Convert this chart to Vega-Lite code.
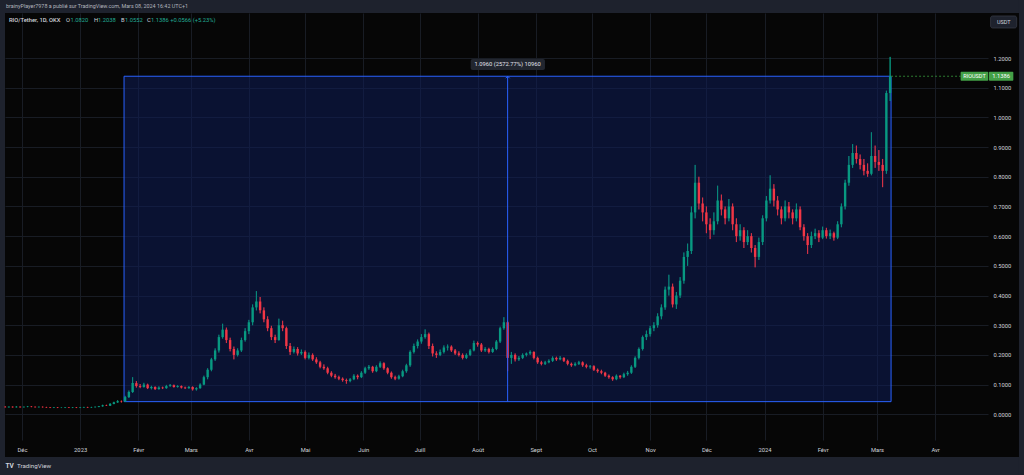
{
"$schema":"https://vega.github.io/schema/vega-lite/v6.json",
"width":983,"height":427,
"autosize":{"type":"none"},
"padding":{"left":5,"top":13,"right":36,"bottom":35},
"background":"#060606",
"config":{"view":{"stroke":null},"font":"Roboto",
 "axis":{"title":null,"grid":true,"gridColor":"#181c24","domain":false,"ticks":false,"labelColor":"#d1d4dc","labelFontSize":5.8,"labelFont":"Roboto","labelFlush":false,"labelOverlap":false}},
"datasets":{"k":[
{"t":"2022-11-22","o":0.025,"h":0.027,"l":0.023,"c":0.024},
{"t":"2022-11-24","o":0.024,"h":0.026,"l":0.023,"c":0.025},
{"t":"2022-11-26","o":0.025,"h":0.026,"l":0.023,"c":0.024},
{"t":"2022-11-28","o":0.024,"h":0.027,"l":0.023,"c":0.025},
{"t":"2022-11-30","o":0.025,"h":0.026,"l":0.023,"c":0.024},
{"t":"2022-12-02","o":0.024,"h":0.026,"l":0.023,"c":0.025},
{"t":"2022-12-04","o":0.025,"h":0.028,"l":0.024,"c":0.026},
{"t":"2022-12-06","o":0.026,"h":0.027,"l":0.024,"c":0.025},
{"t":"2022-12-08","o":0.025,"h":0.026,"l":0.023,"c":0.024},
{"t":"2022-12-10","o":0.024,"h":0.026,"l":0.023,"c":0.025},
{"t":"2022-12-12","o":0.025,"h":0.026,"l":0.023,"c":0.024},
{"t":"2022-12-14","o":0.024,"h":0.025,"l":0.022,"c":0.023},
{"t":"2022-12-16","o":0.023,"h":0.024,"l":0.021,"c":0.022},
{"t":"2022-12-18","o":0.022,"h":0.024,"l":0.021,"c":0.023},
{"t":"2022-12-20","o":0.023,"h":0.024,"l":0.021,"c":0.022},
{"t":"2022-12-22","o":0.022,"h":0.023,"l":0.021,"c":0.0225},
{"t":"2022-12-24","o":0.022,"h":0.024,"l":0.021,"c":0.023},
{"t":"2022-12-26","o":0.023,"h":0.024,"l":0.021,"c":0.022},
{"t":"2022-12-28","o":0.022,"h":0.024,"l":0.021,"c":0.023},
{"t":"2022-12-30","o":0.023,"h":0.024,"l":0.021,"c":0.022},
{"t":"2023-01-01","o":0.022,"h":0.024,"l":0.021,"c":0.023},
{"t":"2023-01-03","o":0.023,"h":0.025,"l":0.022,"c":0.024},
{"t":"2023-01-05","o":0.024,"h":0.025,"l":0.022,"c":0.023},
{"t":"2023-01-07","o":0.023,"h":0.025,"l":0.022,"c":0.024},
{"t":"2023-01-09","o":0.024,"h":0.026,"l":0.023,"c":0.025},
{"t":"2023-01-11","o":0.025,"h":0.028,"l":0.024,"c":0.027},
{"t":"2023-01-13","o":0.027,"h":0.032,"l":0.026,"c":0.030},
{"t":"2023-01-15","o":0.030,"h":0.032,"l":0.028,"c":0.029},
{"t":"2023-01-17","o":0.029,"h":0.037,"l":0.028,"c":0.035},
{"t":"2023-01-19","o":0.035,"h":0.042,"l":0.034,"c":0.040},
{"t":"2023-01-21","o":0.040,"h":0.047,"l":0.039,"c":0.044},
{"t":"2023-01-23","o":0.044,"h":0.046,"l":0.040,"c":0.043},
{"t":"2023-01-25","o":0.043,"h":0.062,"l":0.042,"c":0.058},
{"t":"2023-01-27","o":0.058,"h":0.080,"l":0.055,"c":0.075},
{"t":"2023-01-29","o":0.075,"h":0.125,"l":0.072,"c":0.105},
{"t":"2023-01-31","o":0.105,"h":0.112,"l":0.090,"c":0.095},
{"t":"2023-02-02","o":0.095,"h":0.102,"l":0.088,"c":0.092},
{"t":"2023-02-04","o":0.092,"h":0.106,"l":0.090,"c":0.100},
{"t":"2023-02-06","o":0.100,"h":0.103,"l":0.085,"c":0.088},
{"t":"2023-02-08","o":0.088,"h":0.096,"l":0.084,"c":0.092},
{"t":"2023-02-10","o":0.092,"h":0.094,"l":0.082,"c":0.085},
{"t":"2023-02-12","o":0.085,"h":0.094,"l":0.083,"c":0.090},
{"t":"2023-02-14","o":0.090,"h":0.093,"l":0.085,"c":0.088},
{"t":"2023-02-16","o":0.088,"h":0.099,"l":0.086,"c":0.095},
{"t":"2023-02-18","o":0.095,"h":0.102,"l":0.093,"c":0.098},
{"t":"2023-02-20","o":0.098,"h":0.100,"l":0.090,"c":0.092},
{"t":"2023-02-22","o":0.092,"h":0.098,"l":0.090,"c":0.095},
{"t":"2023-02-24","o":0.095,"h":0.097,"l":0.087,"c":0.090},
{"t":"2023-02-26","o":0.090,"h":0.093,"l":0.085,"c":0.088},
{"t":"2023-02-28","o":0.088,"h":0.095,"l":0.086,"c":0.092},
{"t":"2023-03-02","o":0.092,"h":0.094,"l":0.080,"c":0.084},
{"t":"2023-03-04","o":0.084,"h":0.091,"l":0.080,"c":0.088},
{"t":"2023-03-06","o":0.088,"h":0.104,"l":0.086,"c":0.100},
{"t":"2023-03-08","o":0.100,"h":0.130,"l":0.098,"c":0.125},
{"t":"2023-03-10","o":0.125,"h":0.155,"l":0.118,"c":0.150},
{"t":"2023-03-12","o":0.150,"h":0.190,"l":0.145,"c":0.185},
{"t":"2023-03-14","o":0.185,"h":0.222,"l":0.180,"c":0.215},
{"t":"2023-03-16","o":0.215,"h":0.268,"l":0.208,"c":0.260},
{"t":"2023-03-18","o":0.260,"h":0.305,"l":0.255,"c":0.285},
{"t":"2023-03-20","o":0.285,"h":0.292,"l":0.240,"c":0.250},
{"t":"2023-03-22","o":0.250,"h":0.258,"l":0.212,"c":0.220},
{"t":"2023-03-24","o":0.220,"h":0.228,"l":0.185,"c":0.200},
{"t":"2023-03-26","o":0.200,"h":0.222,"l":0.195,"c":0.215},
{"t":"2023-03-28","o":0.215,"h":0.258,"l":0.210,"c":0.250},
{"t":"2023-03-30","o":0.250,"h":0.290,"l":0.245,"c":0.280},
{"t":"2023-04-01","o":0.280,"h":0.318,"l":0.270,"c":0.310},
{"t":"2023-04-03","o":0.310,"h":0.370,"l":0.300,"c":0.360},
{"t":"2023-04-05","o":0.360,"h":0.415,"l":0.350,"c":0.380},
{"t":"2023-04-07","o":0.380,"h":0.395,"l":0.340,"c":0.350},
{"t":"2023-04-09","o":0.350,"h":0.360,"l":0.310,"c":0.320},
{"t":"2023-04-11","o":0.320,"h":0.330,"l":0.280,"c":0.290},
{"t":"2023-04-13","o":0.290,"h":0.298,"l":0.250,"c":0.260},
{"t":"2023-04-15","o":0.260,"h":0.268,"l":0.240,"c":0.250},
{"t":"2023-04-17","o":0.250,"h":0.322,"l":0.248,"c":0.300},
{"t":"2023-04-19","o":0.300,"h":0.315,"l":0.280,"c":0.290},
{"t":"2023-04-21","o":0.290,"h":0.295,"l":0.220,"c":0.230},
{"t":"2023-04-23","o":0.230,"h":0.240,"l":0.200,"c":0.210},
{"t":"2023-04-25","o":0.210,"h":0.228,"l":0.205,"c":0.220},
{"t":"2023-04-27","o":0.220,"h":0.226,"l":0.198,"c":0.205},
{"t":"2023-04-29","o":0.205,"h":0.218,"l":0.200,"c":0.210},
{"t":"2023-05-01","o":0.210,"h":0.215,"l":0.185,"c":0.190},
{"t":"2023-05-03","o":0.190,"h":0.208,"l":0.185,"c":0.200},
{"t":"2023-05-05","o":0.200,"h":0.205,"l":0.180,"c":0.185},
{"t":"2023-05-07","o":0.185,"h":0.192,"l":0.170,"c":0.175},
{"t":"2023-05-09","o":0.175,"h":0.180,"l":0.155,"c":0.160},
{"t":"2023-05-11","o":0.160,"h":0.168,"l":0.150,"c":0.155},
{"t":"2023-05-13","o":0.155,"h":0.160,"l":0.135,"c":0.140},
{"t":"2023-05-15","o":0.140,"h":0.145,"l":0.125,"c":0.130},
{"t":"2023-05-17","o":0.130,"h":0.136,"l":0.120,"c":0.125},
{"t":"2023-05-19","o":0.125,"h":0.130,"l":0.115,"c":0.120},
{"t":"2023-05-21","o":0.120,"h":0.124,"l":0.110,"c":0.115},
{"t":"2023-05-23","o":0.115,"h":0.120,"l":0.103,"c":0.112},
{"t":"2023-05-25","o":0.112,"h":0.122,"l":0.108,"c":0.118},
{"t":"2023-05-27","o":0.118,"h":0.135,"l":0.115,"c":0.130},
{"t":"2023-05-29","o":0.130,"h":0.134,"l":0.118,"c":0.125},
{"t":"2023-05-31","o":0.125,"h":0.145,"l":0.122,"c":0.140},
{"t":"2023-06-02","o":0.140,"h":0.160,"l":0.136,"c":0.155},
{"t":"2023-06-04","o":0.155,"h":0.166,"l":0.150,"c":0.160},
{"t":"2023-06-06","o":0.160,"h":0.163,"l":0.140,"c":0.145},
{"t":"2023-06-08","o":0.145,"h":0.165,"l":0.142,"c":0.160},
{"t":"2023-06-10","o":0.160,"h":0.178,"l":0.156,"c":0.172},
{"t":"2023-06-12","o":0.172,"h":0.175,"l":0.150,"c":0.155},
{"t":"2023-06-14","o":0.155,"h":0.158,"l":0.135,"c":0.140},
{"t":"2023-06-16","o":0.140,"h":0.144,"l":0.120,"c":0.125},
{"t":"2023-06-18","o":0.125,"h":0.130,"l":0.115,"c":0.120},
{"t":"2023-06-20","o":0.120,"h":0.133,"l":0.117,"c":0.128},
{"t":"2023-06-22","o":0.128,"h":0.150,"l":0.125,"c":0.145},
{"t":"2023-06-24","o":0.145,"h":0.170,"l":0.140,"c":0.165},
{"t":"2023-06-26","o":0.165,"h":0.215,"l":0.160,"c":0.210},
{"t":"2023-06-28","o":0.210,"h":0.238,"l":0.205,"c":0.230},
{"t":"2023-06-30","o":0.230,"h":0.252,"l":0.222,"c":0.245},
{"t":"2023-07-02","o":0.245,"h":0.270,"l":0.238,"c":0.260},
{"t":"2023-07-04","o":0.260,"h":0.286,"l":0.255,"c":0.270},
{"t":"2023-07-06","o":0.270,"h":0.275,"l":0.220,"c":0.230},
{"t":"2023-07-08","o":0.230,"h":0.238,"l":0.195,"c":0.205},
{"t":"2023-07-10","o":0.205,"h":0.212,"l":0.190,"c":0.200},
{"t":"2023-07-12","o":0.200,"h":0.218,"l":0.196,"c":0.210},
{"t":"2023-07-14","o":0.210,"h":0.232,"l":0.205,"c":0.225},
{"t":"2023-07-16","o":0.225,"h":0.235,"l":0.215,"c":0.228},
{"t":"2023-07-18","o":0.228,"h":0.232,"l":0.210,"c":0.215},
{"t":"2023-07-20","o":0.215,"h":0.220,"l":0.200,"c":0.205},
{"t":"2023-07-22","o":0.205,"h":0.212,"l":0.195,"c":0.200},
{"t":"2023-07-24","o":0.200,"h":0.205,"l":0.185,"c":0.190},
{"t":"2023-07-26","o":0.190,"h":0.205,"l":0.186,"c":0.200},
{"t":"2023-07-28","o":0.200,"h":0.220,"l":0.196,"c":0.215},
{"t":"2023-07-30","o":0.215,"h":0.248,"l":0.212,"c":0.240},
{"t":"2023-08-01","o":0.240,"h":0.245,"l":0.228,"c":0.235},
{"t":"2023-08-03","o":0.235,"h":0.240,"l":0.210,"c":0.215},
{"t":"2023-08-05","o":0.215,"h":0.226,"l":0.210,"c":0.220},
{"t":"2023-08-07","o":0.220,"h":0.224,"l":0.205,"c":0.210},
{"t":"2023-08-09","o":0.210,"h":0.225,"l":0.207,"c":0.220},
{"t":"2023-08-11","o":0.220,"h":0.250,"l":0.216,"c":0.245},
{"t":"2023-08-13","o":0.245,"h":0.295,"l":0.240,"c":0.290},
{"t":"2023-08-15","o":0.290,"h":0.327,"l":0.285,"c":0.310},
{"t":"2023-08-17","o":0.310,"h":0.315,"l":0.145,"c":0.190},
{"t":"2023-08-19","o":0.190,"h":0.210,"l":0.170,"c":0.200},
{"t":"2023-08-21","o":0.200,"h":0.205,"l":0.178,"c":0.185},
{"t":"2023-08-23","o":0.185,"h":0.196,"l":0.180,"c":0.190},
{"t":"2023-08-25","o":0.190,"h":0.205,"l":0.186,"c":0.200},
{"t":"2023-08-27","o":0.200,"h":0.208,"l":0.195,"c":0.205},
{"t":"2023-08-29","o":0.205,"h":0.215,"l":0.200,"c":0.210},
{"t":"2023-08-31","o":0.210,"h":0.212,"l":0.185,"c":0.190},
{"t":"2023-09-02","o":0.190,"h":0.194,"l":0.170,"c":0.175},
{"t":"2023-09-04","o":0.175,"h":0.180,"l":0.165,"c":0.170},
{"t":"2023-09-06","o":0.170,"h":0.180,"l":0.166,"c":0.175},
{"t":"2023-09-08","o":0.175,"h":0.185,"l":0.172,"c":0.180},
{"t":"2023-09-10","o":0.180,"h":0.195,"l":0.176,"c":0.190},
{"t":"2023-09-12","o":0.190,"h":0.194,"l":0.180,"c":0.185},
{"t":"2023-09-14","o":0.185,"h":0.196,"l":0.182,"c":0.190},
{"t":"2023-09-16","o":0.190,"h":0.192,"l":0.176,"c":0.180},
{"t":"2023-09-18","o":0.180,"h":0.184,"l":0.165,"c":0.170},
{"t":"2023-09-20","o":0.170,"h":0.174,"l":0.160,"c":0.165},
{"t":"2023-09-22","o":0.165,"h":0.175,"l":0.162,"c":0.170},
{"t":"2023-09-24","o":0.170,"h":0.180,"l":0.166,"c":0.175},
{"t":"2023-09-26","o":0.175,"h":0.178,"l":0.160,"c":0.165},
{"t":"2023-09-28","o":0.165,"h":0.170,"l":0.155,"c":0.160},
{"t":"2023-09-30","o":0.160,"h":0.166,"l":0.154,"c":0.162},
{"t":"2023-10-02","o":0.162,"h":0.165,"l":0.146,"c":0.150},
{"t":"2023-10-04","o":0.150,"h":0.154,"l":0.140,"c":0.145},
{"t":"2023-10-06","o":0.145,"h":0.150,"l":0.135,"c":0.140},
{"t":"2023-10-08","o":0.140,"h":0.143,"l":0.126,"c":0.130},
{"t":"2023-10-10","o":0.130,"h":0.134,"l":0.120,"c":0.125},
{"t":"2023-10-12","o":0.125,"h":0.128,"l":0.113,"c":0.118},
{"t":"2023-10-14","o":0.118,"h":0.134,"l":0.115,"c":0.130},
{"t":"2023-10-16","o":0.130,"h":0.132,"l":0.120,"c":0.125},
{"t":"2023-10-18","o":0.125,"h":0.140,"l":0.122,"c":0.135},
{"t":"2023-10-20","o":0.135,"h":0.146,"l":0.130,"c":0.140},
{"t":"2023-10-22","o":0.140,"h":0.165,"l":0.136,"c":0.160},
{"t":"2023-10-24","o":0.160,"h":0.195,"l":0.156,"c":0.190},
{"t":"2023-10-26","o":0.190,"h":0.225,"l":0.185,"c":0.220},
{"t":"2023-10-28","o":0.220,"h":0.265,"l":0.215,"c":0.260},
{"t":"2023-10-30","o":0.260,"h":0.282,"l":0.250,"c":0.270},
{"t":"2023-11-01","o":0.270,"h":0.298,"l":0.262,"c":0.290},
{"t":"2023-11-03","o":0.290,"h":0.310,"l":0.280,"c":0.300},
{"t":"2023-11-05","o":0.300,"h":0.340,"l":0.292,"c":0.330},
{"t":"2023-11-07","o":0.330,"h":0.370,"l":0.320,"c":0.360},
{"t":"2023-11-09","o":0.360,"h":0.430,"l":0.352,"c":0.420},
{"t":"2023-11-11","o":0.420,"h":0.470,"l":0.400,"c":0.430},
{"t":"2023-11-13","o":0.430,"h":0.440,"l":0.360,"c":0.370},
{"t":"2023-11-15","o":0.370,"h":0.412,"l":0.355,"c":0.400},
{"t":"2023-11-17","o":0.400,"h":0.462,"l":0.392,"c":0.450},
{"t":"2023-11-19","o":0.450,"h":0.545,"l":0.440,"c":0.530},
{"t":"2023-11-21","o":0.530,"h":0.575,"l":0.500,"c":0.550},
{"t":"2023-11-23","o":0.550,"h":0.700,"l":0.540,"c":0.680},
{"t":"2023-11-25","o":0.680,"h":0.840,"l":0.660,"c":0.780},
{"t":"2023-11-27","o":0.780,"h":0.800,"l":0.690,"c":0.710},
{"t":"2023-11-29","o":0.710,"h":0.730,"l":0.650,"c":0.680},
{"t":"2023-12-01","o":0.680,"h":0.700,"l":0.610,"c":0.640},
{"t":"2023-12-03","o":0.640,"h":0.660,"l":0.590,"c":0.620},
{"t":"2023-12-05","o":0.620,"h":0.680,"l":0.605,"c":0.650},
{"t":"2023-12-07","o":0.650,"h":0.770,"l":0.640,"c":0.720},
{"t":"2023-12-09","o":0.720,"h":0.740,"l":0.670,"c":0.690},
{"t":"2023-12-11","o":0.690,"h":0.700,"l":0.640,"c":0.660},
{"t":"2023-12-13","o":0.660,"h":0.725,"l":0.650,"c":0.700},
{"t":"2023-12-15","o":0.700,"h":0.710,"l":0.620,"c":0.640},
{"t":"2023-12-17","o":0.640,"h":0.660,"l":0.580,"c":0.600},
{"t":"2023-12-19","o":0.600,"h":0.640,"l":0.585,"c":0.620},
{"t":"2023-12-21","o":0.620,"h":0.630,"l":0.560,"c":0.580},
{"t":"2023-12-23","o":0.580,"h":0.620,"l":0.570,"c":0.600},
{"t":"2023-12-25","o":0.600,"h":0.610,"l":0.545,"c":0.560},
{"t":"2023-12-27","o":0.560,"h":0.570,"l":0.495,"c":0.530},
{"t":"2023-12-29","o":0.530,"h":0.595,"l":0.520,"c":0.580},
{"t":"2023-12-31","o":0.580,"h":0.670,"l":0.570,"c":0.660},
{"t":"2024-01-02","o":0.660,"h":0.735,"l":0.650,"c":0.720},
{"t":"2024-01-04","o":0.720,"h":0.805,"l":0.710,"c":0.760},
{"t":"2024-01-06","o":0.760,"h":0.775,"l":0.700,"c":0.720},
{"t":"2024-01-08","o":0.720,"h":0.735,"l":0.670,"c":0.690},
{"t":"2024-01-10","o":0.690,"h":0.700,"l":0.640,"c":0.660},
{"t":"2024-01-12","o":0.660,"h":0.720,"l":0.650,"c":0.700},
{"t":"2024-01-14","o":0.700,"h":0.715,"l":0.660,"c":0.680},
{"t":"2024-01-16","o":0.680,"h":0.690,"l":0.640,"c":0.660},
{"t":"2024-01-18","o":0.660,"h":0.710,"l":0.650,"c":0.690},
{"t":"2024-01-20","o":0.690,"h":0.700,"l":0.620,"c":0.630},
{"t":"2024-01-22","o":0.630,"h":0.640,"l":0.585,"c":0.600},
{"t":"2024-01-24","o":0.600,"h":0.610,"l":0.540,"c":0.570},
{"t":"2024-01-26","o":0.570,"h":0.615,"l":0.560,"c":0.600},
{"t":"2024-01-28","o":0.600,"h":0.625,"l":0.590,"c":0.610},
{"t":"2024-01-30","o":0.610,"h":0.620,"l":0.580,"c":0.595},
{"t":"2024-02-01","o":0.595,"h":0.632,"l":0.590,"c":0.620},
{"t":"2024-02-03","o":0.620,"h":0.628,"l":0.592,"c":0.600},
{"t":"2024-02-05","o":0.600,"h":0.622,"l":0.590,"c":0.610},
{"t":"2024-02-07","o":0.610,"h":0.615,"l":0.585,"c":0.595},
{"t":"2024-02-09","o":0.595,"h":0.650,"l":0.590,"c":0.640},
{"t":"2024-02-11","o":0.640,"h":0.710,"l":0.630,"c":0.700},
{"t":"2024-02-13","o":0.700,"h":0.790,"l":0.690,"c":0.780},
{"t":"2024-02-15","o":0.780,"h":0.870,"l":0.770,"c":0.840},
{"t":"2024-02-17","o":0.840,"h":0.910,"l":0.830,"c":0.880},
{"t":"2024-02-19","o":0.880,"h":0.905,"l":0.845,"c":0.860},
{"t":"2024-02-21","o":0.860,"h":0.875,"l":0.825,"c":0.840},
{"t":"2024-02-23","o":0.840,"h":0.860,"l":0.805,"c":0.820},
{"t":"2024-02-25","o":0.820,"h":0.845,"l":0.800,"c":0.810},
{"t":"2024-02-27","o":0.810,"h":0.950,"l":0.805,"c":0.870},
{"t":"2024-02-29","o":0.870,"h":0.905,"l":0.830,"c":0.850},
{"t":"2024-03-02","o":0.850,"h":0.890,"l":0.820,"c":0.840},
{"t":"2024-03-04","o":0.840,"h":0.860,"l":0.765,"c":0.820},
{"t":"2024-03-06","o":0.820,"h":1.090,"l":0.810,"c":1.082},
{"t":"2024-03-08","o":1.082,"h":1.2038,"l":1.0552,"c":1.1386}
]},
"layer":[
{"data":{"name":"k"},
 "mark":{"type":"rule","strokeWidth":0.9},
 "encoding":{
  "x":{"field":"t","type":"temporal",
   "scale":{"type":"utc","nice":false,"padding":0,"domain":[{"year":2022,"month":11,"date":21,"hours":22,"minutes":24,"utc":true},{"year":2024,"month":4,"date":29,"hours":4,"minutes":48,"utc":true}]},
   "axis":{"title":null,"labelPadding":6,"labelOverlap":false,
    "values":[{"year":2022,"month":12,"date":1,"utc":true},{"year":2023,"month":1,"date":1,"utc":true},{"year":2023,"month":2,"date":1,"utc":true},{"year":2023,"month":3,"date":1,"utc":true},{"year":2023,"month":4,"date":1,"utc":true},{"year":2023,"month":5,"date":1,"utc":true},{"year":2023,"month":6,"date":1,"utc":true},{"year":2023,"month":7,"date":1,"utc":true},{"year":2023,"month":8,"date":1,"utc":true},{"year":2023,"month":9,"date":1,"utc":true},{"year":2023,"month":10,"date":1,"utc":true},{"year":2023,"month":11,"date":1,"utc":true},{"year":2023,"month":12,"date":1,"utc":true},{"year":2024,"month":1,"date":1,"utc":true},{"year":2024,"month":2,"date":1,"utc":true},{"year":2024,"month":3,"date":1,"utc":true},{"year":2024,"month":4,"date":1,"utc":true}],
    "labelExpr":"utcmonth(datum.value) == 0 ? '' + utcyear(datum.value) : ['Janv','Févr','Mars','Avr','Mai','Juin','Juill','Août','Sept','Oct','Nov','Déc'][utcmonth(datum.value)]"}},
  "y":{"field":"l","type":"quantitative",
   "scale":{"domain":[-0.0866,1.3516],"nice":false,"zero":false,"padding":0},
   "axis":{"orient":"right","title":null,"labelPadding":5,"labelOverlap":false,"tickCount":14,
    "values":[0,0.1,0.2,0.3,0.4,0.5,0.6,0.7,0.8,0.9,1.0,1.1,1.2],
    "labelExpr":"datum.value > 1.25 || datum.value < -0.01 ? '' : format(datum.value, '.4f')"}},
  "y2":{"field":"h"},
  "color":{"condition":{"test":"datum.c >= datum.o","value":"#089981"},"value":"#f23645"}}},
{"data":{"values":[{}]},
 "mark":{"type":"rect","fill":"#1e222d"},
 "encoding":{
  "x":{"datum":{"year":2022,"month":11,"date":19,"hours":6,"utc":true},"type":"temporal"},
  "x2":{"datum":{"year":2024,"month":5,"date":18,"hours":12,"utc":true}},
  "y":{"datum":1.3516,"type":"quantitative"},
  "y2":{"datum":1.42}}},
{"data":{"values":[{}]},
 "mark":{"type":"rect","fill":"#1e222d"},
 "encoding":{
  "x":{"datum":{"year":2022,"month":11,"date":19,"hours":6,"utc":true},"type":"temporal"},
  "x2":{"datum":{"year":2024,"month":5,"date":18,"hours":12,"utc":true}},
  "y":{"datum":-0.1438,"type":"quantitative"},
  "y2":{"datum":-0.23}}},
{"data":{"values":[{}]},
 "mark":{"type":"rect","fill":"#1e222d"},
 "encoding":{
  "x":{"datum":{"year":2022,"month":11,"date":19,"hours":6,"utc":true},"type":"temporal"},
  "x2":{"datum":{"year":2022,"month":11,"date":21,"hours":22,"minutes":24,"utc":true}},
  "y":{"datum":-0.23,"type":"quantitative"},
  "y2":{"datum":1.42}}},
{"data":{"values":[{}]},
 "mark":{"type":"rect","fill":"#1e222d"},
 "encoding":{
  "x":{"datum":{"year":2024,"month":5,"date":15,"hours":17,"utc":true},"type":"temporal"},
  "x2":{"datum":{"year":2024,"month":5,"date":18,"hours":12,"utc":true}},
  "y":{"datum":-0.23,"type":"quantitative"},
  "y2":{"datum":1.42}}},
{"data":{"values":[{}]},
 "mark":{"type":"rect","fill":"#0e1d57","fillOpacity":0.55,"stroke":"#2962ff","strokeWidth":1},
 "encoding":{
  "x":{"datum":{"year":2023,"month":1,"date":24,"hours":10,"utc":true},"type":"temporal"},
  "x2":{"datum":{"year":2024,"month":3,"date":8,"hours":12,"utc":true}},
  "y":{"datum":0.0426,"type":"quantitative"},
  "y2":{"datum":1.1386}}},
{"data":{"name":"k"},
 "mark":{"type":"rule","strokeWidth":0.9},
 "encoding":{
  "x":{"field":"t","type":"temporal"},
  "y":{"field":"l","type":"quantitative"},
  "y2":{"field":"h"},
  "color":{"condition":{"test":"datum.c >= datum.o","value":"#089981"},"value":"#f23645"}}},
{"data":{"name":"k"},
 "mark":{"type":"bar","size":2.4},
 "encoding":{
  "x":{"field":"t","type":"temporal"},
  "y":{"field":"o","type":"quantitative"},
  "y2":{"field":"c"},
  "color":{"condition":{"test":"datum.c >= datum.o","value":"#089981"},"value":"#f23645"}}},
{"data":{"values":[{}]},
 "mark":{"type":"rule","stroke":"#2962ff","strokeWidth":1},
 "encoding":{
  "x":{"datum":{"year":2023,"month":8,"date":17,"utc":true},"type":"temporal"},
  "y":{"datum":0.0426,"type":"quantitative"},
  "y2":{"datum":1.1386}}},
{"data":{"values":[{}]},
 "mark":{"type":"point","shape":"M-1,1L0,0L1,1","filled":false,"stroke":"#2962ff","strokeWidth":1,"size":16,"opacity":1},
 "encoding":{
  "x":{"datum":{"year":2023,"month":8,"date":17,"utc":true},"type":"temporal"},
  "y":{"datum":1.1386,"type":"quantitative"}}},
{"data":{"values":[{}]},
 "mark":{"type":"rect","fill":"#22262f","cornerRadius":2},
 "encoding":{
  "x":{"datum":{"year":2023,"month":7,"date":28,"hours":7,"utc":true},"type":"temporal"},
  "x2":{"datum":{"year":2023,"month":9,"date":5,"hours":22,"utc":true}},
  "y":{"datum":1.1597,"type":"quantitative"},
  "y2":{"datum":1.1967}}},
{"data":{"values":[{}]},
 "mark":{"type":"text","text":"1.0960 (2572.77%) 10960","align":"center","baseline":"middle","font":"Roboto","fontSize":5.8,"color":"#e0e3eb"},
 "encoding":{
  "x":{"datum":{"year":2023,"month":8,"date":17,"utc":true},"type":"temporal"},
  "y":{"datum":1.1782,"type":"quantitative"}}},
{"data":{"values":[{}]},
 "mark":{"type":"rule","stroke":"#2e7d32","strokeWidth":1,"strokeDash":[2,2]},
 "encoding":{
  "x":{"datum":{"year":2024,"month":3,"date":8,"hours":12,"utc":true},"type":"temporal"},
  "x2":{"datum":{"year":2024,"month":4,"date":14,"hours":14,"utc":true}},
  "y":{"datum":1.1386,"type":"quantitative"}}},
{"data":{"values":[{}]},
 "mark":{"type":"rect","fill":"#43a047","cornerRadius":1},
 "encoding":{
  "x":{"datum":{"year":2024,"month":4,"date":14,"hours":14,"utc":true},"type":"temporal"},
  "x2":{"datum":{"year":2024,"month":4,"date":29,"hours":8,"utc":true}},
  "y":{"datum":1.1236,"type":"quantitative"},
  "y2":{"datum":1.1539}}},
{"data":{"values":[{}]},
 "mark":{"type":"rect","fill":"#43a047","cornerRadius":1},
 "encoding":{
  "x":{"datum":{"year":2024,"month":4,"date":29,"hours":17,"utc":true},"type":"temporal"},
  "x2":{"datum":{"year":2024,"month":5,"date":12,"hours":17,"utc":true}},
  "y":{"datum":1.1236,"type":"quantitative"},
  "y2":{"datum":1.1539}}},
{"data":{"values":[{}]},
 "mark":{"type":"text","text":"RIOUSDT","align":"center","baseline":"middle","font":"Roboto","fontSize":5.5,"color":"#ffffff"},
 "encoding":{
  "x":{"datum":{"year":2024,"month":4,"date":22,"utc":true},"type":"temporal"},
  "y":{"datum":1.1386,"type":"quantitative"}}},
{"data":{"values":[{}]},
 "mark":{"type":"text","text":"1.1386","align":"center","baseline":"middle","font":"Roboto","fontSize":5.8,"color":"#ffffff"},
 "encoding":{
  "x":{"datum":{"year":2024,"month":5,"date":6,"hours":5,"utc":true},"type":"temporal"},
  "y":{"datum":1.1386,"type":"quantitative"}}},
{"data":{"values":[{}]},
 "mark":{"type":"rect","fill":"#1e222d","stroke":"#363a45","strokeWidth":0.8,"cornerRadius":2},
 "encoding":{
  "x":{"datum":{"year":2024,"month":4,"date":30,"hours":14,"utc":true},"type":"temporal"},
  "x2":{"datum":{"year":2024,"month":5,"date":14,"hours":12,"utc":true}},
  "y":{"datum":1.3011,"type":"quantitative"},
  "y2":{"datum":1.3415}}},
{"data":{"values":[{}]},
 "mark":{"type":"text","text":"USDT","align":"center","baseline":"middle","font":"Roboto","fontSize":5.5,"color":"#d1d4dc"},
 "encoding":{
  "x":{"datum":{"year":2024,"month":5,"date":7,"hours":14,"utc":true},"type":"temporal"},
  "y":{"datum":1.3213,"type":"quantitative"}}},
{"data":{"values":[{}]},
 "mark":{"type":"text","text":"brainyPlayer7978 a publié sur TradingView.com, Mars 08, 2024 16:42 UTC+1","align":"left","baseline":"middle","font":"Roboto","fontSize":5.4,"color":"#b2b5be"},
 "encoding":{
  "x":{"datum":{"year":2022,"month":11,"date":22,"hours":11,"utc":true},"type":"temporal"},
  "y":{"datum":1.3742,"type":"quantitative"}}},
{"data":{"values":[{}]},
 "mark":{"type":"text","text":"RIO/Tether, 1D, OKX","align":"left","baseline":"middle","font":"Roboto","fontSize":5.8,"fontWeight":500,"color":"#d1d4dc"},
 "encoding":{
  "x":{"datum":{"year":2022,"month":11,"date":24,"hours":1,"utc":true},"type":"temporal"},
  "y":{"datum":1.328,"type":"quantitative"}}},
{"data":{"values":[{}]},
 "mark":{"type":"text","text":"O","align":"left","baseline":"middle","font":"Roboto","fontSize":5.8,"color":"#d1d4dc"},
 "encoding":{
  "x":{"datum":{"year":2022,"month":12,"date":24,"hours":11,"utc":true},"type":"temporal"},
  "y":{"datum":1.328,"type":"quantitative"}}},
{"data":{"values":[{}]},
 "mark":{"type":"text","text":"1.0820","align":"left","baseline":"middle","font":"Roboto","fontSize":5.8,"color":"#22ab94"},
 "encoding":{
  "x":{"datum":{"year":2022,"month":12,"date":26,"hours":21,"utc":true},"type":"temporal"},
  "y":{"datum":1.328,"type":"quantitative"}}},
{"data":{"values":[{}]},
 "mark":{"type":"text","text":"H","align":"left","baseline":"middle","font":"Roboto","fontSize":5.8,"color":"#d1d4dc"},
 "encoding":{
  "x":{"datum":{"year":2023,"month":1,"date":8,"hours":10,"utc":true},"type":"temporal"},
  "y":{"datum":1.328,"type":"quantitative"}}},
{"data":{"values":[{}]},
 "mark":{"type":"text","text":"1.2038","align":"left","baseline":"middle","font":"Roboto","fontSize":5.8,"color":"#22ab94"},
 "encoding":{
  "x":{"datum":{"year":2023,"month":1,"date":10,"hours":13,"utc":true},"type":"temporal"},
  "y":{"datum":1.328,"type":"quantitative"}}},
{"data":{"values":[{}]},
 "mark":{"type":"text","text":"B","align":"left","baseline":"middle","font":"Roboto","fontSize":5.8,"color":"#d1d4dc"},
 "encoding":{
  "x":{"datum":{"year":2023,"month":1,"date":22,"hours":19,"utc":true},"type":"temporal"},
  "y":{"datum":1.328,"type":"quantitative"}}},
{"data":{"values":[{}]},
 "mark":{"type":"text","text":"1.0552","align":"left","baseline":"middle","font":"Roboto","fontSize":5.8,"color":"#22ab94"},
 "encoding":{
  "x":{"datum":{"year":2023,"month":1,"date":24,"hours":22,"utc":true},"type":"temporal"},
  "y":{"datum":1.328,"type":"quantitative"}}},
{"data":{"values":[{}]},
 "mark":{"type":"text","text":"C","align":"left","baseline":"middle","font":"Roboto","fontSize":5.8,"color":"#d1d4dc"},
 "encoding":{
  "x":{"datum":{"year":2023,"month":2,"date":5,"hours":16,"utc":true},"type":"temporal"},
  "y":{"datum":1.328,"type":"quantitative"}}},
{"data":{"values":[{}]},
 "mark":{"type":"text","text":"1.1386 +0.0566 (+5.23%)","align":"left","baseline":"middle","font":"Roboto","fontSize":5.8,"color":"#22ab94"},
 "encoding":{
  "x":{"datum":{"year":2023,"month":2,"date":7,"hours":19,"utc":true},"type":"temporal"},
  "y":{"datum":1.328,"type":"quantitative"}}},
{"data":{"values":[{}]},
 "mark":{"type":"text","text":"TV","align":"left","baseline":"middle","font":"Roboto","fontSize":6.5,"fontWeight":"bold","color":"#d1d4dc"},
 "encoding":{
  "x":{"datum":{"year":2022,"month":11,"date":22,"hours":5,"utc":true},"type":"temporal"},
  "y":{"datum":-0.1741,"type":"quantitative"}}},
{"data":{"values":[{}]},
 "mark":{"type":"text","text":"TradingView","align":"left","baseline":"middle","font":"Roboto","fontSize":6.2,"color":"#d1d4dc"},
 "encoding":{
  "x":{"datum":{"year":2022,"month":11,"date":28,"hours":8,"utc":true},"type":"temporal"},
  "y":{"datum":-0.1741,"type":"quantitative"}}}
]
}
